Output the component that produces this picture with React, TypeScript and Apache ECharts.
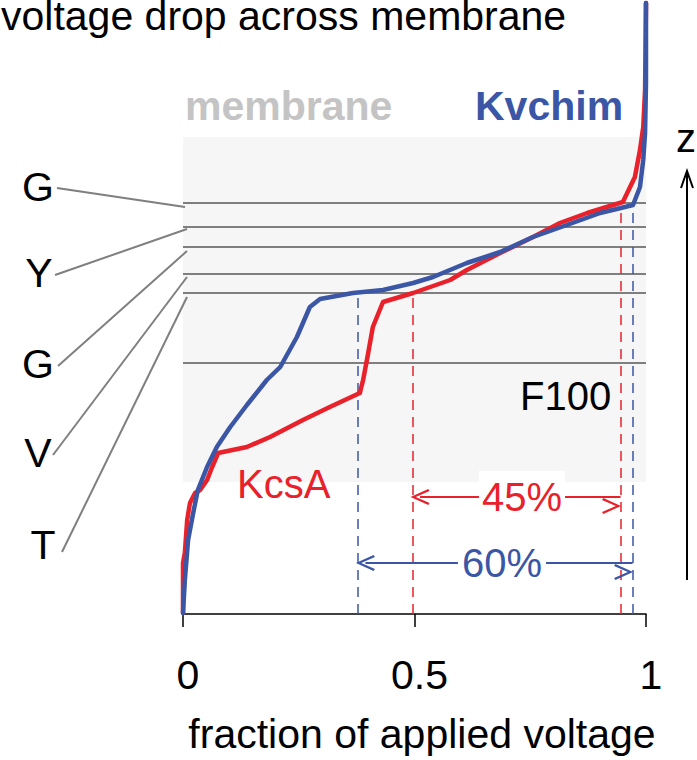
import React, { useEffect, useRef } from 'react';
import * as echarts from 'echarts';

// x: fraction of applied voltage, y: position along the pore axis z (arbitrary units)
const fractionTicks = [0, 0.5, 1];

const kcsaFraction = [0, 0, 0.004, 0.009, 0.015, 0.026, 0.037, 0.052, 0.063, 0.076, 0.138, 0.188, 0.259, 0.317, 0.382, 0.389, 0.4, 0.41, 0.432, 0.497, 0.577, 0.613, 0.685, 0.756, 0.814, 0.873, 0.95, 0.976, 0.987, 0.994, 0.998, 1.0];
const kcsaZ = [1, 51, 61, 94, 111, 121, 124, 134, 147, 161, 167, 177, 194, 207, 221, 234, 261, 287, 312, 321, 334, 344, 361, 377, 391, 401, 412, 437, 464, 487, 524, 611];

const kvchimFraction = [0, 0.004, 0.011, 0.022, 0.032, 0.052, 0.073, 0.102, 0.138, 0.181, 0.21, 0.246, 0.274, 0.296, 0.367, 0.432, 0.497, 0.54, 0.613, 0.685, 0.756, 0.829, 0.901, 0.972, 0.987, 0.994, 0.998, 1.0, 1.0];
const kvchimZ = [1, 34, 74, 101, 124, 147, 167, 187, 209, 234, 247, 277, 307, 315, 321, 324, 331, 337, 351, 362, 377, 389, 401, 409, 427, 454, 481, 531, 611];

// filter residue planes (G Y G V T) and F100 plane
const residueLineZ = [411, 387, 367, 340, 321, 251];
const residueLabels = ['G', 'Y', 'G', 'V', 'T'];
const membraneZ = [132, 477];

// drop boundaries (fraction) and height where the dashed guides end
const kcsaDrop = [0.497, 0.946];
const kvchimDrop = [0.378, 0.972];
const dropTopZ = [321, 406];
const dropLabels = ['45%', '60%'];
const arrowZ = [117, 51];

const FONT = '"Liberation Sans", Arial, Helvetica, sans-serif';
const RED = '#e8212b';
const BLUE = '#3a56a5';
const GRAY = '#7f7f7f';
const CHEVRON = 'path://M10,0 L20,22 L17.6,23.6 L10,6.5 L2.4,23.6 L0,22 Z';

export default function App() {
  const ref = useRef<HTMLDivElement>(null);

  useEffect(() => {
    const chart = echarts.init(ref.current!, null, { renderer: 'svg' });

    const dashLine = (f: number, top: number, color: string) => {
      const ls = { color, type: [10, 7], width: 1.5 };
      return [
        { coord: [f, 0], lineStyle: ls },
        { coord: [f, top], lineStyle: ls },
      ];
    };

    const letterPos = [
      [38, 187],
      [39, 273],
      [38, 364],
      [38, 453],
      [43, 545],
    ];
    const leaderLines = [
      [57, 188, 185, 207],
      [55, 275, 187, 229],
      [58, 366, 187, 251],
      [53, 455, 187, 277],
      [62, 552, 187, 297],
    ];

    const txt = (x: number, y: number, text: string, fill: string, opts: any = {}) => ({
      type: 'text',
      z: 100,
      silent: true,
      style: {
        x,
        y,
        text,
        fill,
        fontSize: 41,
        fontFamily: FONT,
        align: 'left',
        verticalAlign: 'middle',
        ...opts,
      },
    });

    const graphic: any[] = [
      txt(1, 16, 'voltage drop across membrane', '#000'),
      txt(185, 106, 'membrane', '#c4c4c4', { fontWeight: 'bold' }),
      txt(475, 106, 'Kvchim', BLUE, { fontWeight: 'bold' }),
      txt(237, 484, 'KcsA', RED, { fontSize: 40 }),
      txt(520, 396, 'F100', '#000', { fontSize: 40 }),
      txt(522, 497, dropLabels[0], RED, {
        fontSize: 40,
        align: 'center',
        backgroundColor: '#fff',
        padding: [8, 3, 4, 3],
      }),
      txt(502, 563, dropLabels[1], BLUE, {
        fontSize: 40,
        align: 'center',
        backgroundColor: '#fff',
        padding: [2, 4, 2, 4],
      }),
      txt(686, 138, 'z', '#000', { fontSize: 40, align: 'center' }),
      txt(422, 734, 'fraction of applied voltage', '#000', { align: 'center' }),
      ...residueLabels.map((l, i) =>
        txt(letterPos[i][0], letterPos[i][1], l, '#000', { align: 'center' })
      ),
      ...leaderLines.map((p) => ({
        type: 'line',
        z: 100,
        silent: true,
        shape: { x1: p[0], y1: p[1], x2: p[2], y2: p[3] },
        style: { stroke: GRAY, lineWidth: 2 },
      })),
      {
        type: 'line',
        z: 100,
        silent: true,
        shape: { x1: 687, y1: 580, x2: 687, y2: 171 },
        style: { stroke: '#000', lineWidth: 2 },
      },
      {
        type: 'polyline',
        z: 100,
        silent: true,
        shape: { points: [[681, 188], [687, 171], [693, 188]] },
        style: { stroke: '#000', lineWidth: 2, fill: 'none' },
      },
    ];

    const arrowEnd = (f: number, z: number, color: string) => ({
      coord: [f, z],
      lineStyle: { color, type: 'solid', width: 2 },
      itemStyle: { color },
    });

    const option: any = {
      animation: false,
      textStyle: { fontFamily: FONT },
      grid: { left: 183, right: 51, top: 0, bottom: 146, containLabel: false },
      xAxis: {
        type: 'value',
        min: fractionTicks[0],
        max: fractionTicks[fractionTicks.length - 1],
        interval: fractionTicks[1] - fractionTicks[0],
        splitLine: { show: false },
        axisLine: { show: true, onZero: false, lineStyle: { color: '#000', width: 1.5 } },
        axisTick: { show: true, length: 13, lineStyle: { color: '#000', width: 1.5 } },
        axisLabel: {
          fontSize: 41,
          color: '#000',
          margin: 40,
          fontFamily: FONT,
          padding: [0, 0, 0, 10],
        },
      },
      yAxis: { type: 'value', min: 0, max: 614, show: false },
      series: [
        {
          type: 'line',
          data: [],
          silent: true,
          clip: false,
          markArea: {
            silent: true,
            label: { show: false },
            itemStyle: { color: '#f6f6f6' },
            data: [[{ yAxis: membraneZ[0] }, { yAxis: membraneZ[1] }]],
          },
          markLine: {
            silent: true,
            symbol: 'none',
            label: { show: false },
            data: [
              ...residueLineZ.map((z) => ({
                yAxis: z,
                lineStyle: { color: GRAY, type: 'solid', width: 2 },
              })),
              dashLine(kcsaDrop[0], dropTopZ[0], RED),
              dashLine(kvchimDrop[0], dropTopZ[0], BLUE),
              dashLine(kcsaDrop[1], dropTopZ[1], RED),
              dashLine(kvchimDrop[1], dropTopZ[1], BLUE),
            ],
          },
        },
        {
          type: 'line',
          data: [],
          silent: true,
          clip: false,
          markLine: {
            silent: true,
            symbol: [CHEVRON, CHEVRON],
            symbolSize: [16, 19],
            symbolOffset: [0, 9],
            label: { show: false },
            data: [
              [arrowEnd(kcsaDrop[0] + 0.015, arrowZ[0], RED), arrowEnd(kcsaDrop[1] - 0.001, arrowZ[0], RED)],
              [arrowEnd(kvchimDrop[0] + 0.016, arrowZ[1], BLUE), arrowEnd(kvchimDrop[1] - 0.001, arrowZ[1], BLUE)],
            ],
          },
        },
        {
          name: 'KcsA',
          type: 'line',
          z: 10,
          silent: true,
          clip: false,
          showSymbol: false,
          symbol: 'none',
          lineStyle: { color: RED, width: 4.5, join: 'round', cap: 'round' },
          data: kcsaFraction.map((f, i) => [f, kcsaZ[i]]),
        },
        {
          name: 'Kvchim',
          type: 'line',
          z: 11,
          silent: true,
          clip: false,
          showSymbol: false,
          symbol: 'none',
          lineStyle: { color: BLUE, width: 4.5, join: 'round', cap: 'round' },
          data: kvchimFraction.map((f, i) => [f, kvchimZ[i]]),
        },
      ],
      graphic,
    };

    chart.setOption(option);
    return () => chart.dispose();
  }, []);

  return (
    <div
      ref={ref}
      style={{ position: 'absolute', left: 0, top: 0, width: 697, height: 760, background: '#fff' }}
    />
  );
}
